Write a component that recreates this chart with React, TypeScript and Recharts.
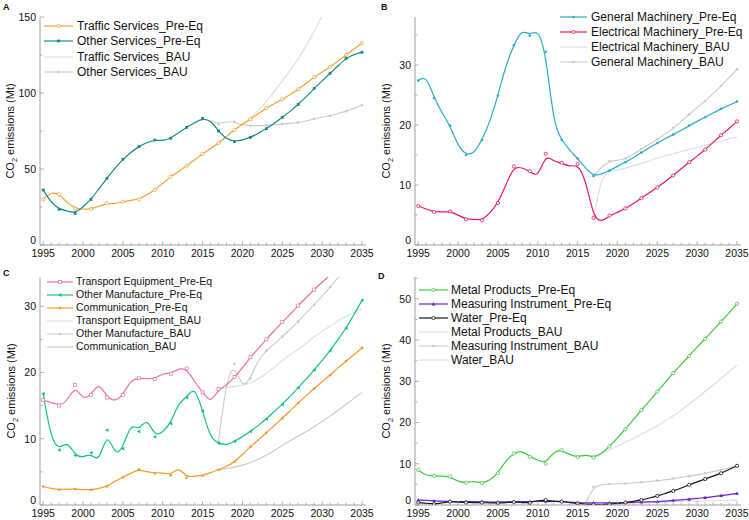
import React from "react";
import { LineChart, Line, XAxis, YAxis, Legend } from "recharts";

const FONT = "Arial, 'Liberation Sans', Helvetica, sans-serif";
const AXIS = "#a0a0a0";
const BAU_LIGHT = "#dddddd";
const BAU_MID = "#cacaca";

const YEARS = [
  1995, 1996, 1997, 1998, 1999, 2000, 2001, 2002, 2003, 2004, 2005, 2006, 2007, 2008,
  2009, 2010, 2011, 2012, 2013, 2014, 2015, 2016, 2017, 2018, 2019, 2020, 2021, 2022,
  2023, 2024, 2025, 2026, 2027, 2028, 2029, 2030, 2031, 2032, 2033, 2034, 2035,
];

// ---- A: services (values 1995–2035 unless a start year is given) ----
const trafficPre = [30, 35, 33.3, 28, 24, 23.5, 23.7, 25.5, 27.4, 27, 28.5, 29.5, 30, 33, 36.2, 40.5, 45, 48.5, 52.2, 56, 60, 63.5, 67, 71.5, 75.7, 79.5, 82.7, 86.5, 90, 93, 95.8, 99, 102.4, 106.5, 110.3, 113.8, 117.3, 121, 125, 129, 132.7];
const otherServicesPre = [36.2, 28, 23.5, 22.5, 20.8, 25, 30, 37, 43.9, 50.5, 56.4, 61, 64.7, 67.5, 69.1, 68.5, 70.2, 74, 77.4, 80.5, 83.3, 82, 75, 69.5, 68, 69, 70.8, 73.5, 76.5, 80, 84, 88, 92.5, 97.5, 103, 108, 113, 118, 122.8, 125.5, 126.8];
const trafficBau = [63.5, 67, 71.5, 76, 79.5, 83.5, 88.5, 94.5, 101, 108, 115, 122.5, 131, 140.5, 151, 162, 174, 187, 200, 214]; // from 2016
const otherServicesBau = [82, 79.5, 81.3, 81, 79, 78.5, 78.5, 78.7, 79, 79.6, 80, 80.5, 81.5, 83, 84, 85, 86.5, 88, 90, 92]; // from 2016

// ---- B: machinery ----
const generalPre = [27.4, 28.3, 24.5, 22, 19.9, 16.5, 15, 15.2, 17.5, 20.5, 24.9, 30, 33.3, 36, 34.9, 36, 32.2, 20, 17.5, 15.8, 14.4, 12.8, 11.5, 11.8, 12.4, 13.1, 13.8, 14.6, 15.4, 16.2, 17, 17.7, 18.4, 19.1, 19.9, 20.6, 21.3, 22, 22.7, 23.3, 23.9];
const electricalPre = [6.5, 6.0, 5.5, 5.5, 5.6, 5.0, 4.3, 4.3, 4.1, 5.3, 7.0, 10, 13.1, 12.9, 12.3, 11.1, 15.2, 13.9, 13.7, 13.0, 13.5, 11, 4.5, 3.8, 4.9, 5.4, 6.1, 6.9, 7.8, 8.7, 9.6, 10.6, 11.6, 12.7, 13.8, 14.8, 15.9, 17.1, 18.3, 19.4, 20.6];
const electricalBau = [4.5, 11.5, 12.3, 12.5, 12.8, 13.2, 13.6, 14, 14.5, 14.9, 15.2, 15.6, 15.9, 16.3, 16.6, 17, 17.3, 17.7, 18]; // from 2017
const generalBau = [11.5, 13, 14, 14.1, 14.4, 15.1, 16, 16.8, 17.6, 18.5, 19.5, 20.6, 21.8, 22.9, 24, 25.2, 26.5, 27.9, 29.3]; // from 2017

// ---- C: manufacture ----
const transportPre = [15.8, 15.5, 15.0, 15.6, 18.1, 15.8, 16.6, 18.6, 16.2, 15.6, 16.6, 18.9, 19.1, 19.1, 19.0, 19.9, 19.8, 20.6, 20.6, 18.6, 17.0, 15.3, 17.5, 18.0, 19.3, 20.7, 22.3, 23.6, 25, 26.3, 27.6, 28.8, 30.1, 31.3, 32.5, 33.6, 34.7, 35.8, 37, 38, 39];
const otherManufPre = [16.8, 9.9, 8.3, 9.7, 7.5, 7.1, 7.9, 6.2, 11.3, 7.4, 8.5, 12.5, 11.1, 13.3, 10.3, 11, 12.3, 15.5, 16.2, 18, 14.2, 10, 9.3, 9.0, 9.6, 10.3, 11.1, 12, 13, 14.1, 15.2, 16.4, 17.7, 19, 20.4, 21.8, 23.3, 25, 26.7, 28.7, 30.9];
const communicationPre = [2.8, 2.5, 2.3, 2.4, 2.4, 2.3, 2.3, 2.5, 2.8, 3.6, 4.2, 4.8, 5.4, 5.0, 4.8, 4.9, 4.5, 5.8, 4.1, 4.4, 4.4, 4.9, 5.3, 5.8, 6.5, 7.6, 8.8, 9.8, 10.9, 12, 13.1, 14.2, 15.4, 16.5, 17.6, 18.6, 19.6, 20.7, 21.7, 22.7, 23.7];
const transportBau = [17.5, 17.7, 17.9, 18.1, 18.4, 19.0, 19.8, 20.8, 21.8, 22.7, 23.5, 24.4, 25.4, 26.2, 27, 27.8, 28.5, 29.1, 29.6]; // from 2017
const otherManufBau = [9.6, 19, 21.3, 17.5, 19.1, 22, 23.3, 24.3, 25.4, 26.5, 27.7, 29, 30.2, 31.5, 32.9, 34.3, 35.7, 37.2, 38.7]; // from 2017
const communicationBau = [5.3, 5.5, 5.7, 6.0, 6.4, 6.9, 7.5, 8.2, 9.0, 9.7, 10.4, 11.1, 11.8, 12.6, 13.4, 14.3, 15.2, 16.1, 17.0]; // from 2017

// ---- D: metal, instruments, water ----
const metalPre = [8.5, 7.1, 7.1, 7.0, 6.9, 5.6, 5.4, 5.8, 5.3, 5.9, 7.7, 10.8, 12.5, 13.3, 11.7, 10.9, 10.0, 13.0, 13.3, 12.2, 11.6, 12.3, 11.5, 12.4, 14.2, 16.3, 18.4, 20.7, 23, 25.2, 27.5, 29.7, 32, 34.1, 36.2, 38.3, 40.3, 42.4, 44.5, 46.6, 48.8];
const measuringPre = [1.2, 1.1, 1.0, 0.9, 0.9, 0.8, 0.8, 0.8, 0.8, 0.7, 0.7, 0.8, 0.8, 0.8, 0.8, 0.9, 0.9, 0.9, 0.9, 0.7, 0.6, 0.5, 0.5, 0.5, 0.5, 0.55, 0.6, 0.65, 0.7, 0.75, 0.8, 0.95, 1.1, 1.25, 1.4, 1.6, 1.8, 2.0, 2.3, 2.5, 2.8];
const waterPre = [0.6, 0.4, 0.2, 0.5, 0.8, 0.7, 0.6, 0.6, 0.6, 0.5, 0.5, 0.6, 0.7, 0.6, 0.5, 1.1, 1.2, 0.9, 0.8, 0.6, 0.4, 0.2, 0.1, 0.1, 0.2, 0.4, 0.6, 0.9, 1.2, 1.7, 2.2, 2.8, 3.4, 4.1, 4.9, 5.6, 6.3, 7.0, 7.7, 8.6, 9.5];
const metalBau = [11.5, 12.4, 13.4, 14.3, 15.2, 16.1, 17.1, 18.1, 19.2, 20.4, 21.6, 23, 24.5, 26, 27.5, 29.1, 30.7, 32.3, 34]; // from 2017
const measuringBau = [0.5, 4.4, 5.0, 5.1, 5.15, 5.2, 5.35, 5.5, 5.7, 5.9, 6.1, 6.4, 6.7, 7.0, 7.3, 7.7, 8.1, 8.5, 9.0, 9.5]; // from 2016
const waterBau = [0.1, 0.15, 0.25, 0.35, 0.45, 0.5, 0.6, 0.65, 0.7, 0.75, 0.8, 0.85, 0.9, 0.95, 1.0, 1.05, 1.1, 1.15, 1.2]; // from 2017

type MarkerKind = "none" | "open" | "dot" | "square" | "openSquare" | "triLeft" | "triUp";

type Series = {
  key: string;
  name: string;
  values: number[];
  start: number;
  color: string;
  width: number;
  marker: MarkerKind;
  bau?: boolean;
};

type LegendCfg = { left: number; top: number; sampleW: number; gap: number; rowH: number; fontSize: number };

type Panel = {
  letter: string;
  letterX: number;
  letterY: number;
  yMax: number;
  yTicks: number[];
  yMajor: number;
  labelX: number;
  legend: LegendCfg;
  series: Series[];
};

const panels: Panel[] = [
  {
    letter: "A", letterX: 3, letterY: 3, yMax: 150, yTicks: [0, 25, 50, 75, 100, 125, 150], yMajor: 50, labelX: 14,
    legend: { left: 44, top: 18.5, sampleW: 29, gap: 4, rowH: 15.3, fontSize: 12 },
    series: [
      { key: "tp", name: "Traffic Services_Pre-Eq", values: trafficPre, start: 1995, color: "#f5a133", width: 1.2, marker: "open" },
      { key: "op", name: "Other Services_Pre-Eq", values: otherServicesPre, start: 1995, color: "#168a88", width: 1.2, marker: "square" },
      { key: "tb", name: "Traffic Services_BAU", values: trafficBau, start: 2016, color: BAU_LIGHT, width: 1.1, marker: "none", bau: true },
      { key: "ob", name: "Other Services_BAU", values: otherServicesBau, start: 2016, color: BAU_MID, width: 1.1, marker: "dot", bau: true },
    ],
  },
  {
    letter: "B", letterX: 6, letterY: 3, yMax: 38, yTicks: [0, 5, 10, 15, 20, 25, 30, 35], yMajor: 10, labelX: 15,
    legend: { left: 185, top: 9.9, sampleW: 27, gap: 4, rowH: 14.8, fontSize: 12 },
    series: [
      { key: "gp", name: "General Machinery_Pre-Eq", values: generalPre, start: 1995, color: "#29acc6", width: 1.2, marker: "dot" },
      { key: "ep", name: "Electrical Machinery_Pre-Eq", values: electricalPre, start: 1995, color: "#e3166b", width: 1.2, marker: "open" },
      { key: "eb", name: "Electrical Machinery_BAU", values: electricalBau, start: 2017, color: BAU_LIGHT, width: 1.1, marker: "none", bau: true },
      { key: "gb", name: "General Machinery_BAU", values: generalBau, start: 2017, color: BAU_MID, width: 1.1, marker: "dot", bau: true },
    ],
  },
  {
    letter: "C", letterX: 3, letterY: 9, yMax: 34.4, yTicks: [0, 5, 10, 15, 20, 25, 30], yMajor: 10, labelX: 15,
    legend: { left: 47, top: 15.2, sampleW: 26, gap: 3, rowH: 13, fontSize: 10.5 },
    series: [
      { key: "trp", name: "Transport Equipment_Pre-Eq", values: transportPre, start: 1995, color: "#ee6fa8", width: 1.2, marker: "openSquare" },
      { key: "omp", name: "Other Manufacture_Pre-Eq", values: otherManufPre, start: 1995, color: "#14bf8c", width: 1.2, marker: "triLeft" },
      { key: "cp", name: "Communication_Pre-Eq", values: communicationPre, start: 1995, color: "#f59a2e", width: 1.2, marker: "dot" },
      { key: "trb", name: "Transport Equipment_BAU", values: transportBau, start: 2017, color: BAU_LIGHT, width: 1.1, marker: "none", bau: true },
      { key: "omb", name: "Other Manufacture_BAU", values: otherManufBau, start: 2017, color: BAU_MID, width: 1.1, marker: "dot", bau: true },
      { key: "cb", name: "Communication_BAU", values: communicationBau, start: 2017, color: BAU_MID, width: 1.1, marker: "none", bau: true },
    ],
  },
  {
    letter: "D", letterX: 3, letterY: 11.5, yMax: 55.3, yTicks: [0, 5, 10, 15, 20, 25, 30, 35, 40, 45, 50, 55], yMajor: 10, labelX: 15,
    legend: { left: 44, top: 23, sampleW: 29, gap: 3, rowH: 14, fontSize: 12 },
    series: [
      { key: "mp", name: "Metal Products_Pre-Eq", values: metalPre, start: 1995, color: "#3fca3f", width: 1.2, marker: "open" },
      { key: "ip", name: "Measuring Instrument_Pre-Eq", values: measuringPre, start: 1995, color: "#6b22cf", width: 1.2, marker: "triUp" },
      { key: "wp", name: "Water_Pre-Eq", values: waterPre, start: 1995, color: "#151515", width: 1.2, marker: "open" },
      { key: "mb", name: "Metal Products_BAU", values: metalBau, start: 2017, color: BAU_LIGHT, width: 1.1, marker: "none", bau: true },
      { key: "ib", name: "Measuring Instrument_BAU", values: measuringBau, start: 2016, color: BAU_MID, width: 1.1, marker: "dot", bau: true },
      { key: "wb", name: "Water_BAU", values: waterBau, start: 2017, color: BAU_LIGHT, width: 1.1, marker: "none", bau: true },
    ],
  },
];

function MarkerShape({ kind, x, y, color }: { kind: MarkerKind; x: number; y: number; color: string }) {
  switch (kind) {
    case "open":
      return <circle cx={x} cy={y} r={1.6} fill="#fff" stroke={color} strokeWidth={0.8} />;
    case "dot":
      return <circle cx={x} cy={y} r={1.3} fill={color} />;
    case "square":
      return <rect x={x - 1.4} y={y - 1.4} width={2.8} height={2.8} fill={color} />;
    case "openSquare":
      return <rect x={x - 1.5} y={y - 1.5} width={3} height={3} fill="#fff" stroke={color} strokeWidth={0.7} />;
    case "triLeft":
      return <path d={`M${x - 1.9},${y} L${x + 1.5},${y - 1.9} L${x + 1.5},${y + 1.9} Z`} fill={color} />;
    case "triUp":
      return <path d={`M${x},${y - 2} L${x + 1.9},${y + 1.4} L${x - 1.9},${y + 1.4} Z`} fill={color} />;
    default:
      return null;
  }
}

function XTick(props: any) {
  const { x, y, payload } = props;
  const year = payload.value as number;
  const major = year % 5 === 0;
  return (
    <g>
      <line x1={x} x2={x} y1={y} y2={y - (major ? 4 : 2.5)} stroke={AXIS} strokeWidth={0.8} />
      {major && (
        <text x={x} y={y + 11.5} textAnchor="middle" fontSize={10.5} fontFamily={FONT} fill="#111">
          {year}
        </text>
      )}
    </g>
  );
}

function YTick(props: any) {
  const { x, y, payload, majorStep } = props;
  const v = payload.value as number;
  const major = v % majorStep === 0;
  // the zero label sits a little above the axis so it clears the year labels
  const ty = v === 0 ? y - 4.5 : y;
  return (
    <g>
      <line x1={x} x2={x + (major ? 4 : 2.5)} y1={y} y2={y} stroke={AXIS} strokeWidth={0.8} />
      {major && (
        <text x={x - 4} y={ty} dy="0.36em" textAnchor="end" fontSize={10.5} fontFamily={FONT} fill="#111">
          {v}
        </text>
      )}
    </g>
  );
}

function PanelLegend({ series, cfg }: { series: Series[]; cfg: LegendCfg }) {
  return (
    <div style={{ fontFamily: FONT, fontSize: cfg.fontSize, color: "#111", lineHeight: 1 }}>
      {series.map((s) => (
        <div key={s.key} style={{ display: "flex", alignItems: "center", height: cfg.rowH, whiteSpace: "nowrap" }}>
          <svg width={cfg.sampleW} height={8} style={{ marginRight: cfg.gap, flex: "none" }}>
            <line x1={0} x2={cfg.sampleW} y1={4} y2={4} stroke={s.color} strokeWidth={s.width} />
            <MarkerShape kind={s.marker} x={cfg.sampleW / 2} y={4} color={s.color} />
          </svg>
          <span>{s.name}</span>
        </div>
      ))}
    </div>
  );
}

function PanelChart({ p, width }: { p: Panel; width: number }) {
  const rows = YEARS.map((year) => {
    const row: Record<string, number | null> = { year };
    p.series.forEach((s) => {
      const j = year - s.start;
      row[s.key] = j >= 0 && j < s.values.length ? s.values[j] : null;
    });
    return row;
  });
  const drawOrder = [...p.series.filter((s) => s.bau), ...p.series.filter((s) => !s.bau)];
  const plotTop = 17;
  const plotBottom = 245;

  return (
    <div style={{ position: "relative", width, height: 260 }}>
      <LineChart width={width} height={260} data={rows} margin={{ top: plotTop, right: width - 366, bottom: 0, left: 10 }}>
        <XAxis
          type="number"
          dataKey="year"
          domain={[1994.6, 2035.5]}
          ticks={YEARS}
          interval={0}
          height={15}
          tickSize={0}
          tickMargin={0}
          tickLine={false}
          axisLine={{ stroke: AXIS }}
          tick={(t: any) => <XTick {...t} />}
        />
        <YAxis
          type="number"
          domain={[0, p.yMax]}
          allowDataOverflow
          ticks={p.yTicks}
          interval={0}
          width={30}
          tickSize={0}
          tickMargin={0}
          tickLine={false}
          axisLine={{ stroke: AXIS }}
          tick={(t: any) => <YTick {...t} majorStep={p.yMajor} />}
          label={{
            content: () => {
              const cy = (plotTop + plotBottom) / 2;
              return (
                <text
                  x={p.labelX}
                  y={cy}
                  transform={`rotate(-90 ${p.labelX} ${cy})`}
                  textAnchor="middle"
                  fontSize={11}
                  fontFamily={FONT}
                  fill="#111"
                >
                  CO
                  <tspan fontSize={7.5} dy={2.5}>2</tspan>
                  <tspan dy={-2.5}> emissions (Mt)</tspan>
                </text>
              );
            },
          }}
        />
        <Legend
          layout="vertical"
          align="center"
          verticalAlign="middle"
          wrapperStyle={{ left: p.legend.left, top: p.legend.top, width: "auto", height: "auto" }}
          content={() => <PanelLegend series={p.series} cfg={p.legend} />}
        />
        {drawOrder.map((s) => (
          <Line
            key={s.key}
            name={s.name}
            dataKey={s.key}
            type="basis"
            stroke={s.color}
            strokeWidth={s.width}
            connectNulls={false}
            activeDot={false}
            isAnimationActive={false}
            dot={(d: any) => {
              const k = `${s.key}-${d.index}`;
              if (s.marker === "none" || d.cx == null || d.cy == null || d.value == null || d.payload.year % 2 === 0) {
                return <g key={k} />;
              }
              return (
                <g key={k}>
                  <MarkerShape kind={s.marker} x={d.cx} y={d.cy} color={s.color} />
                </g>
              );
            }}
          />
        ))}
      </LineChart>
      <div
        style={{
          position: "absolute",
          left: p.letterX,
          top: p.letterY,
          fontFamily: FONT,
          fontWeight: "bold",
          fontSize: 9,
          lineHeight: "9px",
          color: "#111",
        }}
      >
        {p.letter}
      </div>
    </div>
  );
}

export default function App() {
  return (
    <div style={{ position: "absolute", left: 0, top: 0, width: 749, height: 520, background: "#fff", overflow: "hidden" }}>
      <div style={{ position: "absolute", left: 0, top: 0 }}>
        <PanelChart p={panels[0]} width={375} />
      </div>
      <div style={{ position: "absolute", left: 375, top: 0 }}>
        <PanelChart p={panels[1]} width={374} />
      </div>
      <div style={{ position: "absolute", left: 0, top: 260 }}>
        <PanelChart p={panels[2]} width={375} />
      </div>
      <div style={{ position: "absolute", left: 375, top: 260 }}>
        <PanelChart p={panels[3]} width={374} />
      </div>
    </div>
  );
}
